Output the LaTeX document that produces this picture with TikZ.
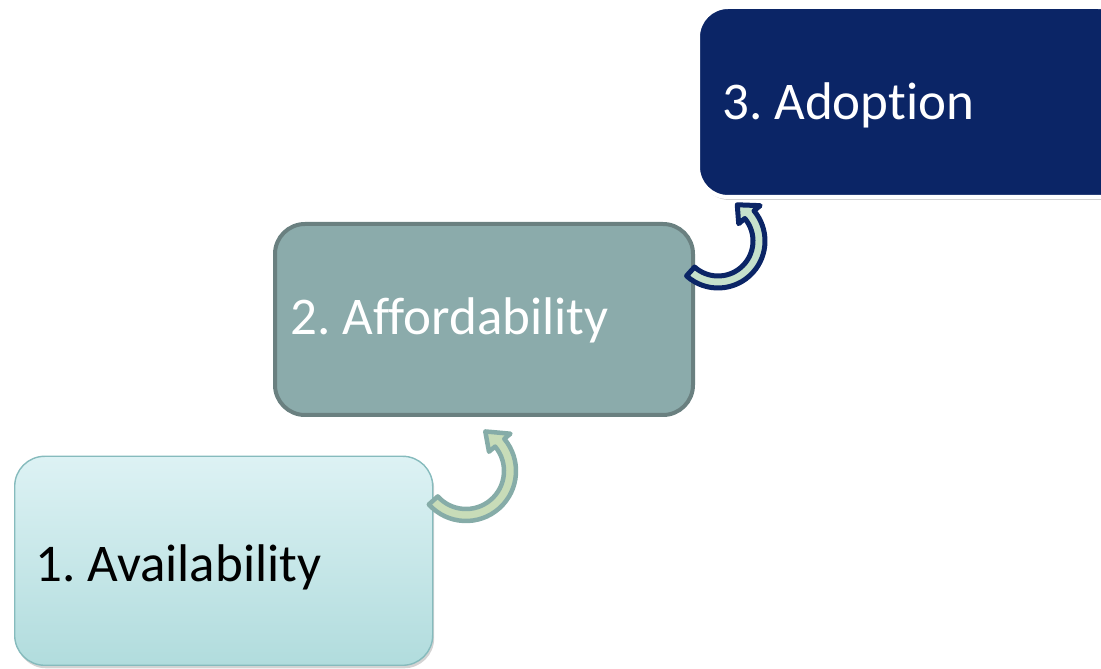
\documentclass[tikz,border=0pt]{standalone}
\usepackage{fontspec}
\setmainfont{Carlito}[Ligatures=CommonOff]
\usetikzlibrary{shadows}
\definecolor{cOneTop}{HTML}{DDF2F4}
\definecolor{cOneBot}{HTML}{B1DCDD}
\definecolor{cOneLine}{HTML}{86BBBD}
\definecolor{cTwoFill}{HTML}{8BABAB}
\definecolor{cTwoLine}{HTML}{6A8080}
\definecolor{cNavy}{HTML}{0B2566}
\definecolor{cArrOneLine}{HTML}{86ACA8}
\definecolor{cArrOneFill}{HTML}{C8DCB8}
\definecolor{cArrTwoFill}{HTML}{C6E1CC}
\begin{document}
\frenchspacing
\begin{tikzpicture}[x=1pt,y=1pt,
  box/.style={rounded corners=30pt, inner sep=0pt, anchor=south west},
  lbl/.style={anchor=base west, inner sep=0pt, font=\fontsize{53}{60}\selectfont},
  shad/.style={drop shadow={opacity=0.35, shadow xshift=1.5pt, shadow yshift=-3pt}}]
\useasboundingbox (0,0) rectangle (1101,669);
\clip (0,0) rectangle (1101,669);
% box 1
\node[box, shad, minimum width=418pt, minimum height=209pt, top color=cOneTop, bottom color=cOneBot, draw=cOneLine, line width=1.4pt] (b1) at (14,3) {};
\node[lbl, text=black] (t1) at (35,87) {1. Availability};
% box 2
\node[box, minimum width=418pt, minimum height=191pt, fill=cTwoFill, draw=cTwoLine, line width=4pt] (b2) at (273,252) {};
\node[lbl, text=white] (t2) at (290,334) {2. Affordability};
% box 3
\node[box, shad, minimum width=430pt, minimum height=190pt, fill=cNavy, draw=white, line width=4pt] (b3) at (696,470) {};
\node[lbl, text=white] (t3) at (722,549) {3. Adoption};
% arrow 1
\draw[shift={(466,198)}, draw=cArrOneLine, fill=cArrOneFill, line width=4.5pt, line join=round]
  (222:50) arc[start angle=222, end angle=400, radius=50] -- (400:58) -- (424:44) -- (400:30) -- (400:38)
  arc[start angle=400, end angle=222, radius=38] -- cycle;
% arrow 2
\draw[shift={(718,428)}, draw=cNavy, fill=cArrTwoFill, line width=5pt, line join=round]
  (228:47) arc[start angle=228, end angle=400, radius=47] -- (400:55) -- (422:41) -- (400:27) -- (400:35)
  arc[start angle=400, end angle=228, radius=35] -- cycle;
\end{tikzpicture}
\end{document}
